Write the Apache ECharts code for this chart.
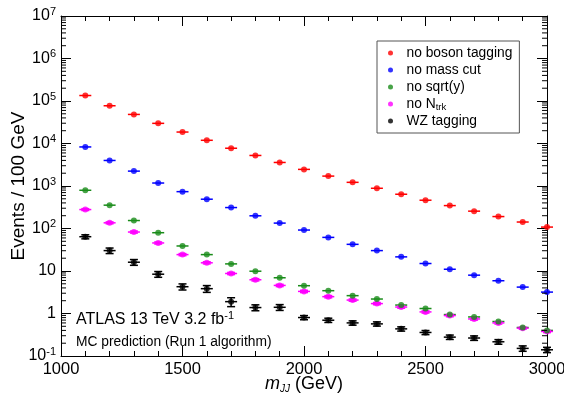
<!DOCTYPE html>
<html><head><meta charset="utf-8">
<script src="https://cdn.jsdelivr.net/npm/echarts@6/dist/echarts.min.js"></script>
<style>html,body{margin:0;padding:0;background:#fff}#c{width:564px;height:396px}</style>
</head><body><div id="c"></div>
<script>
var masses = [1100,1200,1300,1400,1500,1600,1700,1800,1900,2000,2100,2200,2300,2400,2500,2600,2700,2800,2900,3000];
var noBosonTagging = [134600,77300,48300,29800,18600,11900,7740,5230,3580,2460,1710,1220,884,640,463,346,256,191,142,108];
var noMassCut = [8300,3990,2240,1175,736,489,311,199,134,92,61.8,42.4,30.2,21.5,15.0,11.0,7.98,5.90,4.18,3.19];
var noSqrtY = [793,354,154,79.6,38.8,24.3,14.7,9.89,6.93,4.51,3.44,2.63,2.19,1.58,1.31,0.944,0.830,0.648,0.469,0.40];
var noNtrk = [279,136,82.6,45.7,24.3,15.6,8.74,6.22,4.58,3.31,2.49,2.07,1.71,1.42,1.09,0.895,0.745,0.601,0.452,0.378];
var noNtrkErr = [14,7,4.5,2.5,1.4,0.9,0.5,0.38,0.28,0.2,0.15,0.12,0.1,0.085,0.065,0.055,0.045,0.036,0.027,0.023];
var wzTagging = [64.1,30.2,16.1,8.41,4.27,3.84,1.90,1.38,1.40,0.803,0.695,0.601,0.570,0.435,0.358,0.278,0.265,0.216,0.151,0.140];
var wzTaggingErr = [7,4.5,2.5,1.3,0.7,0.7,0.45,0.22,0.22,0.09,0.08,0.07,0.065,0.05,0.04,0.033,0.032,0.027,0.022,0.02];
var seriesNames = ['no boson tagging','no mass cut','no sqrt(y)','no N_trk','WZ tagging'];
var seriesColors = ['#ff0000','#0000ff','#1a8c1a','#ff00ff','#000000'];
var xTickStep = 500;
var yMin = 0.1, yMax = 1e7;
var minorMultipliers = [2,3,4,5,6,7,8,9];
var decadeExponents = [-1,0,1,2,3,4,5,6];

var F = '"Liberation Sans", Arial, Helvetica, sans-serif';
var chart = echarts.init(document.getElementById('c'), null, {renderer:'canvas'});

var minorYTicks = [];
decadeExponents.forEach(function(e){ minorMultipliers.forEach(function(m){ minorYTicks.push([1000, m*Math.pow(10,e)]); }); });

var allVals = [noBosonTagging, noMassCut, noSqrtY, noNtrk, wzTagging];
var allErrs = [null, null, null, noNtrkErr, wzTaggingErr];

var series = [];
allVals.forEach(function(vals, i){
  var errs = allErrs[i];
  series.push({
    type:'custom', coordinateSystem:'cartesian2d', xAxisIndex:0, yAxisIndex:0,
    silent:true, clip:false, z:2,
    encode:{x:0,y:1},
    data: masses.map(function(m,j){ return [m, vals[j], errs ? errs[j] : 0]; }),
    renderItem:function(params, api){
      var x = api.value(0), y = api.value(1), e = api.value(2);
      var c = api.coord([x,y]);
      var col = seriesColors[i];
      var ch = [{type:'line', shape:{x1:c[0]-6,y1:c[1],x2:c[0]+6,y2:c[1]}, style:{stroke:col,lineWidth:1.5}}];
      if (e > 0) {
        var lo = api.coord([x, y-e]), hi = api.coord([x, y+e]);
        ch.push({type:'line', shape:{x1:c[0],y1:lo[1],x2:c[0],y2:hi[1]}, style:{stroke:col,lineWidth:1.5}});
        ch.push({type:'line', shape:{x1:c[0]-4,y1:lo[1],x2:c[0]+4,y2:lo[1]}, style:{stroke:col,lineWidth:1.5}});
        ch.push({type:'line', shape:{x1:c[0]-4,y1:hi[1],x2:c[0]+4,y2:hi[1]}, style:{stroke:col,lineWidth:1.5}});
      }
      return {type:'group', children:ch};
    }
  });
});
allVals.forEach(function(vals, i){
  series.push({
    name: seriesNames[i], type:'scatter', symbol:'circle', symbolSize:6,
    itemStyle:{color:seriesColors[i]}, z:3 + (5-i) * 0.1, silent:true,
    data: masses.map(function(m,j){ return [m, vals[j]]; })
  });
});
series.push({
  type:'custom', coordinateSystem:'cartesian2d', silent:true, clip:false, z:5,
  encode:{x:0,y:1}, data:minorYTicks,
  renderItem:function(params, api){
    var v = api.value(1);
    var l = api.coord([1000, v]), r = api.coord([3000, v]);
    return {type:'group', children:[
      {type:'line', shape:{x1:l[0],y1:l[1],x2:l[0]+5,y2:l[1]}, style:{stroke:'#000',lineWidth:1}},
      {type:'line', shape:{x1:r[0],y1:r[1],x2:r[0]-5,y2:r[1]}, style:{stroke:'#000',lineWidth:1}}
    ]};
  }
});

function yLabel(v){
  var n = Math.round(Math.log10(v));
  if (n === 0) return '1';
  if (n === 1) return '10';
  return '10{sup|' + n + '}';
}

var axisLine = {show:true, lineStyle:{color:'#000', width:1}};
var option = {
  animation:false,
  backgroundColor:'#fff',
  grid:{left:61, right:17, top:16, bottom:40, containLabel:false, outerBoundsMode:'none'},
  xAxis:[{
    type:'value', position:'bottom', min:1000, max:3000, interval:xTickStep,
    axisLine:axisLine, splitLine:{show:false},
    axisTick:{show:true, inside:true, length:10, lineStyle:{color:'#000'}},
    minorTick:{show:true, splitNumber:5, length:5, lineStyle:{color:'#000'}},
    axisLabel:{fontSize:16.5, fontFamily:F, color:'#000', margin:5, formatter:function(v){ return String(v); }},
    name:'{it|m}{sub|JJ} (GeV)', nameLocation:'middle', nameGap:18, nameMoveOverlap:false,
    nameTextStyle:{fontSize:18, fontFamily:F, color:'#000', lineHeight:20,
      rich:{it:{fontStyle:'italic', fontSize:18, fontFamily:F}, sub:{fontStyle:'italic', fontSize:10, fontFamily:F, verticalAlign:'bottom'}}}
  },{
    type:'value', position:'top', min:1000, max:3000, interval:xTickStep,
    axisLine:axisLine, splitLine:{show:false}, axisLabel:{show:false},
    axisTick:{show:true, inside:true, length:10, lineStyle:{color:'#000'}},
    minorTick:{show:true, splitNumber:5, length:5, lineStyle:{color:'#000'}}
  }],
  yAxis:[{
    type:'log', logBase:10, min:yMin, max:yMax, interval:1, position:'left',
    axisLine:axisLine, splitLine:{show:false},
    axisTick:{show:true, inside:true, length:10, lineStyle:{color:'#000'}},
    axisLabel:{fontSize:16, fontFamily:F, color:'#000', margin:5, lineHeight:20, formatter:yLabel,
      rich:{sup:{fontSize:11, fontFamily:F, color:'#000', verticalAlign:'top'}}},
    name:'Events / 100 GeV', nameLocation:'middle', nameGap:33, nameRotate:90, nameMoveOverlap:false,
    nameTextStyle:{fontSize:19, fontFamily:F, color:'#000'}
  },{
    type:'log', logBase:10, min:yMin, max:yMax, interval:1, position:'right',
    axisLine:axisLine, splitLine:{show:false}, axisLabel:{show:false},
    axisTick:{show:true, inside:true, length:10, lineStyle:{color:'#000'}}
  }],
  legend:{
    show:true, orient:'vertical', left:377, top:41,
    data:seriesNames, icon:'circle', itemWidth:22, itemHeight:5, itemGap:1,
    backgroundColor:'#fff', borderColor:'#555', borderWidth:1, padding:[4,7,4,11],
    selectedMode:false,
    formatter:function(name){ return name === 'no N_trk' ? 'no N{sub|trk}' : name; },
    textStyle:{fontSize:13.8, fontFamily:F, color:'#000', lineHeight:16,
      rich:{sub:{fontSize:9.5, fontFamily:F, color:'#000', verticalAlign:'bottom', lineHeight:16}}}
  },
  graphic:[
    {type:'text', x:76, y:320, silent:true, style:{text:'ATLAS 13 TeV 3.2 fb{sup|-1}', fontSize:16, fontFamily:F, fill:'#000',
      verticalAlign:'middle', lineHeight:20, rich:{sup:{fontSize:11, fontFamily:F, fill:'#000', verticalAlign:'top'}}}},
    {type:'text', x:76, y:342, silent:true, style:{text:'MC prediction (Run 1 algorithm)', fontSize:13.8, fontFamily:F, fill:'#000', verticalAlign:'middle'}}
  ],
  series:series
};
chart.setOption(option);
</script></body></html>
